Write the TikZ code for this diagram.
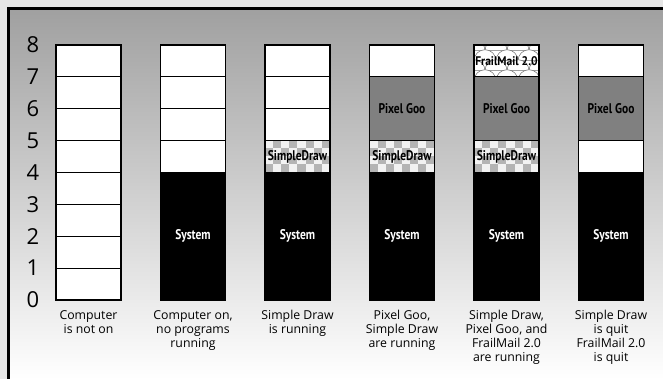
\documentclass[tikz,border=0pt]{standalone}
\usepackage{fontspec}
\setmainfont{Open Sans}
\newfontfamily\boxfont[FakeStretch=0.82]{PT Sans}
\newfontfamily\widebox[FakeStretch=0.92]{PT Sans}
\definecolor{outergray}{RGB}{230,230,230}
\definecolor{bggray}{RGB}{160,160,160}
\definecolor{goo}{RGB}{128,128,128}
\definecolor{chklight}{RGB}{242,242,242}
\definecolor{chkdark}{RGB}{180,180,180}
\definecolor{scaleline}{RGB}{110,110,110}
\tikzset{
  cellw/.style={draw=black, line width=1.1pt, fill=white},
  colframe/.style={draw=black, line width=1.5pt},
  sysfill/.style={fill=black},
  goofill/.style={fill=goo, draw=black, line width=1.1pt},
  syslbl/.style={font=\boxfont\bfseries\fontsize{14}{16}\selectfont, text=white, inner sep=0pt},
  blklbl/.style={font=\boxfont\bfseries\fontsize{14}{16}\selectfont, text=black, inner sep=0pt},
  smalllbl/.style={font=\widebox\bfseries\fontsize{12.5}{14}\selectfont, text=black, inner sep=0pt},
  numlbl/.style={font=\fontsize{22}{24}\selectfont, inner sep=0pt},
  caplbl/.style={font=\fontsize{12.3}{14}\selectfont, align=center, inner sep=0pt, anchor=north}
}
% checker block: #1 = left x, #2 = canvas bottom y
\newcommand\checkblock[2]{%
  \begin{scope}
    \clip (#1,#2) rectangle ++(65,31.9);
    \fill[chklight] (#1,#2) rectangle ++(65,31.9);
    \foreach \i [evaluate=\i as \o using {int(mod(\i,2))}] in {0,...,8}{
      \foreach \j in {0,1}{
        \fill[chkdark] ({#1+\i*8.1},{#2+(2*\j+\o)*7.98}) rectangle ++(8.1,7.98);
      }
    }
  \end{scope}
  \draw[black, line width=1.1pt] (#1,#2) rectangle ++(65,31.9);
}
% fish scale block: #1 = left x, #2 = canvas bottom y
\newcommand\scaleblock[2]{%
  \begin{scope}
    \clip (#1,#2) rectangle ++(65,31.9);
    \fill[white] (#1,#2) rectangle ++(65,31.9);
    \foreach \r [evaluate=\r as \o using {int(mod(\r,2))}] in {0,...,4}{
      \foreach \c in {-1,...,3}{
        \filldraw[fill=white, draw=scaleline, line width=0.5pt]
          ({#1+\c*22+\o*11-11},{#2+26-\r*10}) arc[start angle=180, end angle=0, radius=11pt] -- cycle;
      }
    }
  \end{scope}
  \draw[black, line width=1.1pt] (#1,#2) rectangle ++(65,31.9);
}
\begin{document}
\begin{tikzpicture}[x=1pt,y=1pt]
  \useasboundingbox (0,0) rectangle (663,-379);
  \fill[outergray] (0,0) rectangle (663,-379);
  \shade[top color=bggray, bottom color=white] (8.5,-8.5) rectangle (663,-379);
  \draw[black, line width=2.6pt] (8.5,-379) -- (8.5,-8.5) -- (663,-8.5);

  % axis numbers
  \foreach \k in {0,...,8}{
    \node[numlbl] (n\k) at (33,{-300+31.9*\k}) {\k};
  }

  \begin{scope}[yshift=-300pt, y=31.9pt]
    % column 1
    \foreach \k in {0,...,7}{ \draw[cellw] (56,\k) rectangle (121,\k+1); }
    \draw[colframe] (56,0) rectangle (121,8);

    % column 2
    \fill[sysfill] (160.5,0) rectangle (225.5,4);
    \foreach \k in {4,...,7}{ \draw[cellw] (160.5,\k) rectangle (225.5,\k+1); }
    \draw[colframe] (160.5,0) rectangle (225.5,8);

    % column 3
    \fill[sysfill] (265,0) rectangle (330,4);
    \foreach \k in {5,6,7}{ \draw[cellw] (265,\k) rectangle (330,\k+1); }

    % column 4
    \fill[sysfill] (369.5,0) rectangle (434.5,4);
    \draw[goofill] (369.5,5) rectangle (434.5,7);
    \draw[cellw] (369.5,7) rectangle (434.5,8);

    % column 5
    \fill[sysfill] (474,0) rectangle (539,4);
    \draw[goofill] (474,5) rectangle (539,7);

    % column 6
    \fill[sysfill] (578.5,0) rectangle (643.5,4);
    \draw[cellw] (578.5,4) rectangle (643.5,5);
    \draw[goofill] (578.5,5) rectangle (643.5,7);
    \draw[cellw] (578.5,7) rectangle (643.5,8);
  \end{scope}

  % patterned blocks (canvas coordinates)
  \checkblock{265}{-172.4}
  \checkblock{369.5}{-172.4}
  \checkblock{474}{-172.4}
  \scaleblock{474}{-76.7}

  \begin{scope}[yshift=-300pt, y=31.9pt]
    \draw[colframe] (265,0) rectangle (330,8);
    \draw[colframe] (369.5,0) rectangle (434.5,8);
    \draw[colframe] (474,0) rectangle (539,8);
    \draw[colframe] (578.5,0) rectangle (643.5,8);

    % labels
    \node[syslbl] (s2) at (193,2) {System};
    \node[syslbl] (s3) at (297.5,2) {System};
    \node[syslbl] (s4) at (402,2) {System};
    \node[syslbl] (s5) at (506.5,2) {System};
    \node[syslbl] (s6) at (611,2) {System};
    \node[blklbl] (d3) at (297.5,4.5) {SimpleDraw};
    \node[blklbl] (d4) at (402,4.5) {SimpleDraw};
    \node[blklbl] (d5) at (506.5,4.5) {SimpleDraw};
    \node[blklbl] (p4) at (402,6) {Pixel Goo};
    \node[blklbl] (p5) at (506.5,6) {Pixel Goo};
    \node[blklbl] (p6) at (611,6) {Pixel Goo};
    \node[smalllbl] (f5) at (506.5,7.5) {FrailMail 2.0};
  \end{scope}

  % captions
  \node[caplbl] (c1) at (88.5,-310) {Computer\\is not on};
  \node[caplbl] (c2) at (193,-310) {Computer on,\\no programs\\running};
  \node[caplbl] (c3) at (297.5,-310) {Simple Draw\\is running};
  \node[caplbl] (c4) at (402,-310) {Pixel Goo,\\Simple Draw\\are running};
  \node[caplbl] (c5) at (506.5,-310) {Simple Draw,\\Pixel Goo, and\\FrailMail 2.0\\are running};
  \node[caplbl] (c6) at (611,-310) {Simple Draw\\is quit\\FrailMail 2.0\\is quit};
\end{tikzpicture}
\end{document}
